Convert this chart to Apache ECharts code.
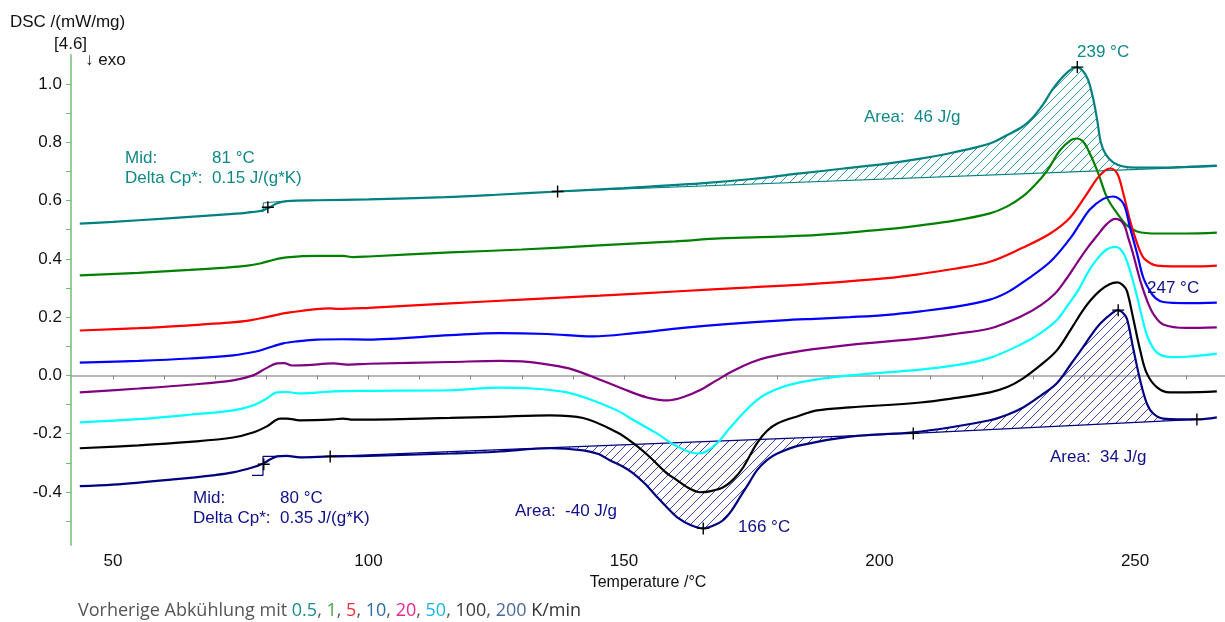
<!DOCTYPE html>
<html>
<head>
<meta charset="utf-8">
<script src="https://cdn.jsdelivr.net/npm/echarts@6/dist/echarts.min.js"></script>
<style>html,body{margin:0;padding:0;background:#fff}#container{width:1225px;height:622px}</style>
</head>
<body>
<div id="container"></div>
<script>
// DSC curves, [temperature °C, DSC mW/mg], one per prior cooling rate
var curve05 = [[43.5,0.521],[50,0.527],[60,0.538],[70,0.55],[76,0.558],[79,0.565],[80.5,0.575],[82,0.59],[84,0.598],[90,0.601],[100,0.604],[115,0.612],[125,0.62],[137,0.631],[150,0.643],[165,0.659],[175,0.674],[184.5,0.693],[193,0.71],[201.5,0.727],[208,0.744],[214.4,0.765],[221.6,0.796],[225,0.825],[228.1,0.855],[230,0.885],[232,0.93],[234,0.985],[236.7,1.039],[238.6,1.057],[239.8,1.045],[240.8,1.015],[241.8,0.95],[242.6,0.875],[243.3,0.8],[244.2,0.76],[245.7,0.731],[247.7,0.717],[250.4,0.713],[255,0.713],[260,0.716],[266,0.72]];
var curve1 = [[43.5,0.343],[55,0.352],[65,0.362],[72,0.37],[76,0.376],[79,0.385],[81.5,0.397],[84,0.405],[90,0.41],[95,0.41],[97,0.406],[100,0.408],[116,0.422],[130,0.432],[145,0.446],[160,0.46],[168.8,0.47],[180,0.476],[188,0.482],[201.5,0.502],[208,0.515],[214.4,0.53],[221.6,0.556],[225,0.58],[228.1,0.615],[230.5,0.655],[232.8,0.703],[235.3,0.772],[237.3,0.806],[238.6,0.813],[239.7,0.805],[240.6,0.782],[242.6,0.703],[244.5,0.611],[246.5,0.556],[248.4,0.515],[250.4,0.494],[254.3,0.487],[260,0.487],[266,0.49]];
var curve5 = [[43.5,0.154],[55,0.162],[65,0.172],[72,0.18],[76.8,0.189],[80,0.2],[84.6,0.216],[92.5,0.23],[94,0.228],[100,0.232],[116,0.247],[130,0.26],[145.3,0.274],[160,0.288],[174.7,0.302],[188.4,0.316],[201.5,0.334],[208,0.348],[214.4,0.365],[221.6,0.39],[228.1,0.439],[233.4,0.487],[237.3,0.542],[240.6,0.624],[242.6,0.676],[244.1,0.703],[245.1,0.71],[246.5,0.693],[247.7,0.624],[249,0.532],[250.4,0.453],[251.6,0.405],[253,0.385],[254.3,0.377],[260.8,0.374],[266,0.377]];
var curve10 = [[43.5,0.044],[55,0.05],[65,0.058],[73.5,0.069],[78,0.082],[80.1,0.093],[83.3,0.11],[86,0.117],[89.9,0.123],[95,0.124],[99.7,0.123],[116,0.138],[125.7,0.145],[135,0.142],[143.9,0.134],[152,0.145],[161.5,0.163],[170,0.176],[181,0.189],[188.4,0.195],[194.2,0.2],[201.5,0.208],[208,0.22],[215,0.236],[221.6,0.26],[225,0.285],[228.1,0.32],[233.4,0.39],[237.3,0.47],[239.2,0.52],[241.2,0.57],[243.7,0.605],[245.7,0.614],[247.7,0.59],[249,0.508],[250.4,0.418],[251.6,0.336],[252.9,0.29],[254,0.265],[255.5,0.252],[260,0.248],[266,0.25]];
var curve20 = [[43.5,-0.058],[55,-0.045],[65,-0.032],[73.5,-0.017],[77.4,0.0],[80,0.025],[82.1,0.041],[83.5,0.042],[85,0.034],[88,0.035],[93.1,0.041],[96.4,0.037],[100,0.04],[116,0.046],[125.7,0.05],[130,0.048],[135.5,0.036],[140,0.02],[145.3,-0.015],[151.8,-0.06],[155,-0.078],[158.4,-0.086],[161.5,-0.075],[164.9,-0.05],[168,-0.018],[171.3,0.015],[175,0.045],[178,0.062],[185,0.085],[194.2,0.105],[208,0.127],[215,0.143],[221.6,0.161],[228.1,0.206],[231.5,0.24],[234.3,0.28],[236.5,0.33],[238.8,0.39],[240.8,0.44],[242.6,0.48],[244.5,0.52],[246.1,0.537],[247.7,0.521],[248.7,0.47],[249.6,0.418],[251,0.326],[252.5,0.25],[253.8,0.205],[255.5,0.175],[260,0.163],[266,0.165]];
var curve50 = [[43.5,-0.161],[55,-0.15],[65,-0.135],[73.5,-0.12],[77.4,-0.103],[80,-0.08],[82.1,-0.058],[84,-0.057],[86.6,-0.062],[93.1,-0.055],[100,-0.053],[116,-0.051],[125.7,-0.042],[132,-0.045],[138.8,-0.058],[143,-0.08],[148.6,-0.12],[152,-0.155],[156.5,-0.2],[160,-0.24],[164.3,-0.268],[166,-0.262],[168.2,-0.233],[170.5,-0.185],[173.3,-0.13],[176,-0.085],[178,-0.062],[181,-0.04],[184.4,-0.024],[188.4,-0.012],[194.2,0.0],[208,0.02],[215,0.035],[221.6,0.06],[228.1,0.11],[231.5,0.145],[234.7,0.19],[236.8,0.24],[238.8,0.29],[241,0.36],[242.6,0.4],[244.5,0.433],[246.2,0.441],[247.7,0.42],[249,0.36],[250.4,0.27],[251.5,0.19],[252.5,0.13],[254.3,0.078],[257,0.063],[260,0.064],[266,0.075]];
var curve100 = [[43.5,-0.25],[55,-0.24],[65,-0.228],[73.5,-0.213],[77.4,-0.196],[80.1,-0.175],[82.7,-0.148],[84,-0.148],[86.6,-0.154],[93.1,-0.151],[95,-0.148],[97,-0.152],[116,-0.146],[125,-0.142],[135.5,-0.137],[142,-0.146],[148.6,-0.195],[152,-0.235],[155.1,-0.281],[158,-0.33],[160.4,-0.36],[163,-0.39],[164.9,-0.401],[167,-0.397],[169.4,-0.384],[171.5,-0.355],[173.3,-0.316],[176,-0.233],[178,-0.19],[180,-0.165],[184,-0.14],[187.8,-0.12],[194.2,-0.11],[208,-0.093],[215,-0.077],[221.6,-0.058],[225,-0.04],[228.1,-0.01],[231.5,0.035],[234.7,0.086],[237.5,0.16],[239.8,0.223],[241.5,0.262],[243.2,0.292],[245,0.313],[246.5,0.319],[247.6,0.31],[248.4,0.29],[249.6,0.199],[251,0.086],[252.3,0.007],[254.3,-0.041],[256.8,-0.058],[260,-0.058],[266,-0.055]];
var curve200 = [[43.5,-0.38],[50,-0.375],[61.8,-0.357],[70,-0.342],[73.5,-0.333],[77.4,-0.315],[79.4,-0.302],[80.8,-0.288],[82.1,-0.278],[84,-0.276],[86.6,-0.281],[92.5,-0.278],[100,-0.276],[116,-0.268],[125,-0.262],[135.5,-0.25],[142,-0.257],[145,-0.27],[147.3,-0.292],[150,-0.315],[151.8,-0.336],[154,-0.37],[156.5,-0.418],[158.5,-0.455],[160.4,-0.487],[163,-0.513],[165.5,-0.525],[167.5,-0.515],[169.4,-0.497],[171,-0.465],[172.7,-0.418],[174.5,-0.368],[176,-0.326],[178,-0.29],[180,-0.268],[184.4,-0.24],[194.2,-0.21],[206.6,-0.195],[214,-0.178],[221.6,-0.154],[225,-0.135],[228.1,-0.11],[231.5,-0.07],[234.7,-0.027],[237.5,0.04],[239.8,0.096],[241.5,0.14],[243.2,0.178],[245.7,0.216],[246.7,0.224],[247.6,0.215],[248.4,0.195],[249.6,0.096],[251,-0.017],[252.3,-0.096],[253.5,-0.13],[255.5,-0.148],[262.1,-0.151],[266,-0.144]];

// evaluation baselines (start, end)
var base05 = [[137,0.631],[266,0.717]];
var base200a = [[92.5,-0.278],[206.6,-0.199]];
var base200b = [[206.6,-0.199],[262.1,-0.151]];
// glass transition constructions
var tg05 = [[76.5,0.562],[79.4,0.562],[79.4,0.592],[83,0.597]];
var tg200 = [[77.2,-0.343],[79.35,-0.343],[79.35,-0.278],[82.7,-0.278]];
// evaluation points
var crosses = [[80.3,0.577],[137,0.631],[238.7,1.058],[79.5,-0.305],[92.5,-0.278],[165.5,-0.525],[206.6,-0.199],[246.7,0.224],[262.1,-0.151]];

var xLabels = [50,100,150,200,250];
var xTicks = [50,60,70,80,90,100,110,120,130,140,150,160,170,180,190,200,210,220,230,240,250,260];
var yLabels = [-0.4,-0.2,0,0.2,0.4,0.6,0.8,1.0];
var yTicks = [-0.5,-0.4,-0.3,-0.2,-0.1,0,0.1,0.2,0.3,0.4,0.5,0.6,0.7,0.8,0.9,1.0];

var curves = [
  {name:'0.5 K/min', data:curve05, color:'#008080'},
  {name:'1 K/min', data:curve1, color:'#008000'},
  {name:'5 K/min', data:curve5, color:'#ff0000'},
  {name:'10 K/min', data:curve10, color:'#0000ff'},
  {name:'20 K/min', data:curve20, color:'#800080'},
  {name:'50 K/min', data:curve50, color:'#00ffff'},
  {name:'100 K/min', data:curve100, color:'#000000'},
  {name:'200 K/min', data:curve200, color:'#000080'}
];

var FONT = "'Liberation Sans', Arial, sans-serif";
var TEAL = '#108888', NAVY = '#101088';

// diagonal "/" hatch tile
function hatch(color) {
  var s = 9;
  var c = document.createElement('canvas');
  c.width = s; c.height = s;
  var ctx = c.getContext('2d');
  ctx.strokeStyle = color;
  ctx.lineWidth = 1;
  ctx.beginPath();
  ctx.moveTo(0, s); ctx.lineTo(s, 0);
  ctx.moveTo(-1, 1); ctx.lineTo(1, -1);
  ctx.moveTo(s - 1, s + 1); ctx.lineTo(s + 1, s - 1);
  ctx.stroke();
  return {image: c, repeat: 'repeat'};
}

function interp(arr, t) {
  for (var i = 1; i < arr.length; i++) {
    if (arr[i][0] >= t) {
      var a = arr[i - 1], b = arr[i];
      return a[1] + (b[1] - a[1]) * (t - a[0]) / (b[0] - a[0]);
    }
  }
  return arr[arr.length - 1][1];
}

function hatchSeries(curve, base, from, to, color) {
  return {
    type: 'custom', silent: true, z: 1, clip: true,
    data: [[from, interp(base, from)]],
    renderItem: function (params, api) {
      var pts = [[from, interp(curve, from)]];
      curve.forEach(function (p) { if (p[0] > from && p[0] < to) pts.push(p); });
      pts.push([to, interp(curve, to)]);
      pts.push([to, interp(base, to)]);
      pts.push([from, interp(base, from)]);
      return {
        type: 'polygon',
        shape: {points: pts.map(function (p) { return api.coord(p); })},
        style: {fill: hatch(color), stroke: null}
      };
    }
  };
}

function thinLine(data, color, w) {
  return {type:'line', data:data, showSymbol:false, silent:true, z:2,
    lineStyle:{color:color, width:w}};
}

var series = [];
series.push(hatchSeries(curve05, base05, 137, 250.4, '#3a9e9e'));
series.push(hatchSeries(curve200, base200a, 92.5, 206.6, '#4646aa'));
series.push(hatchSeries(curve200, base200b, 206.6, 256, '#4646aa'));
series.push(thinLine(base05, '#008080', 1.2));
series.push(thinLine(base200a, '#000080', 1.2));
series.push(thinLine(base200b, '#000080', 1.2));
series.push(thinLine(tg05, '#008080', 1));
series.push(thinLine(tg200, '#000080', 1.2));
curves.forEach(function (c) {
  series.push({
    name: c.name, type: 'line', data: c.data, smooth: 0.35, showSymbol: false,
    z: 3, lineStyle: {color: c.color, width: 2.2}, itemStyle: {color: c.color}
  });
});
series.push({
  type: 'scatter', data: crosses, z: 10, silent: true,
  symbol: 'path://M5.3,0H6.7V5.3H12V6.7H6.7V12H5.3V6.7H0V5.3H5.3Z',
  symbolSize: 12, itemStyle: {color: '#000', opacity: 1}
});

function txt(x, y, text, color, size) {
  return {type:'text', x:x, y:y, z:100,
    style:{text:text, fill:color, font:(size || 17) + 'px ' + FONT, verticalAlign:'middle'}};
}

var capFont = "18px 'Open Sans', sans-serif";
function cap(c) { return {fill: c, font: capFont}; }

var option = {
  animation: false,
  backgroundColor: '#fff',
  grid: {left: 71, right: 0, top: 55, bottom: 77},
  xAxis: {
    type: 'value', min: 41.78, max: 267.6,
    name: 'Temperature /°C', nameLocation: 'middle', nameGap: 22,
    nameTextStyle: {color: '#111', fontSize: 16, fontFamily: FONT},
    axisLine: {show: true, lineStyle: {color: '#a0a0a0', width: 1.5}},
    axisTick: {show: true, length: 4, customValues: xTicks, lineStyle: {color: '#888'}},
    axisLabel: {customValues: xLabels, margin: 8, color: '#111', fontSize: 17, fontFamily: FONT},
    splitLine: {show: false}
  },
  yAxis: {
    type: 'value', min: -0.582, max: 1.0995,
    axisLine: {show: true, lineStyle: {color: '#92cf92', width: 2}},
    axisTick: {show: true, length: 5, customValues: yTicks, lineStyle: {color: '#6cbf6c'}},
    axisLabel: {customValues: yLabels, margin: 9, color: '#111', fontSize: 17, fontFamily: FONT,
      formatter: function (v) { return v.toFixed(1); }},
    splitLine: {show: false}
  },
  series: series,
  graphic: [
    txt(10, 22, 'DSC /(mW/mg)', '#111'),
    txt(54, 44, '[4.6]', '#111'),
    txt(85, 60, '↓ exo', '#111'),
    txt(1077, 52, '239 °C', TEAL),
    txt(864, 117, 'Area:  46 J/g', TEAL),
    txt(125, 158, 'Mid:', TEAL),
    txt(212, 158, '81 °C', TEAL),
    txt(125, 178, 'Delta Cp*:', TEAL),
    txt(212, 178, '0.15 J/(g*K)', TEAL),
    txt(1147, 288, '247 °C', NAVY),
    txt(1050, 457, 'Area:  34 J/g', NAVY),
    txt(515, 511, 'Area:  -40 J/g', NAVY),
    txt(738, 527, '166 °C', NAVY),
    txt(193, 498, 'Mid:', NAVY),
    txt(280, 498, '80 °C', NAVY),
    txt(193, 518, 'Delta Cp*:', NAVY),
    txt(280, 518, '0.35 J/(g*K)', NAVY),
    {
      type: 'text', x: 78, y: 611, z: 100,
      style: {
        text: '{g|Vorherige Abkühlung mit }{a|0.5}{g|, }{b|1}{g|, }{c|5}{g|, }{d|10}{g|, }{e|20}{g|, }{f|50}{g|, }{h|100}{g|, }{i|200}{k| K/min}',
        verticalAlign: 'middle',
        font: capFont,
        rich: {
          g: cap('#555555'), a: cap('#1c8c8c'), b: cap('#45a845'), c: cap('#e8313a'),
          d: cap('#2b6aa8'), e: cap('#e6288c'), f: cap('#1ab4e8'), h: cap('#3c3c3c'),
          i: cap('#4c6a9a'), k: cap('#333333')
        }
      }
    }
  ]
};

var element = document.getElementById('container');
var myChart = echarts.init(element);
myChart.setOption(option);
</script>
</body>
</html>
